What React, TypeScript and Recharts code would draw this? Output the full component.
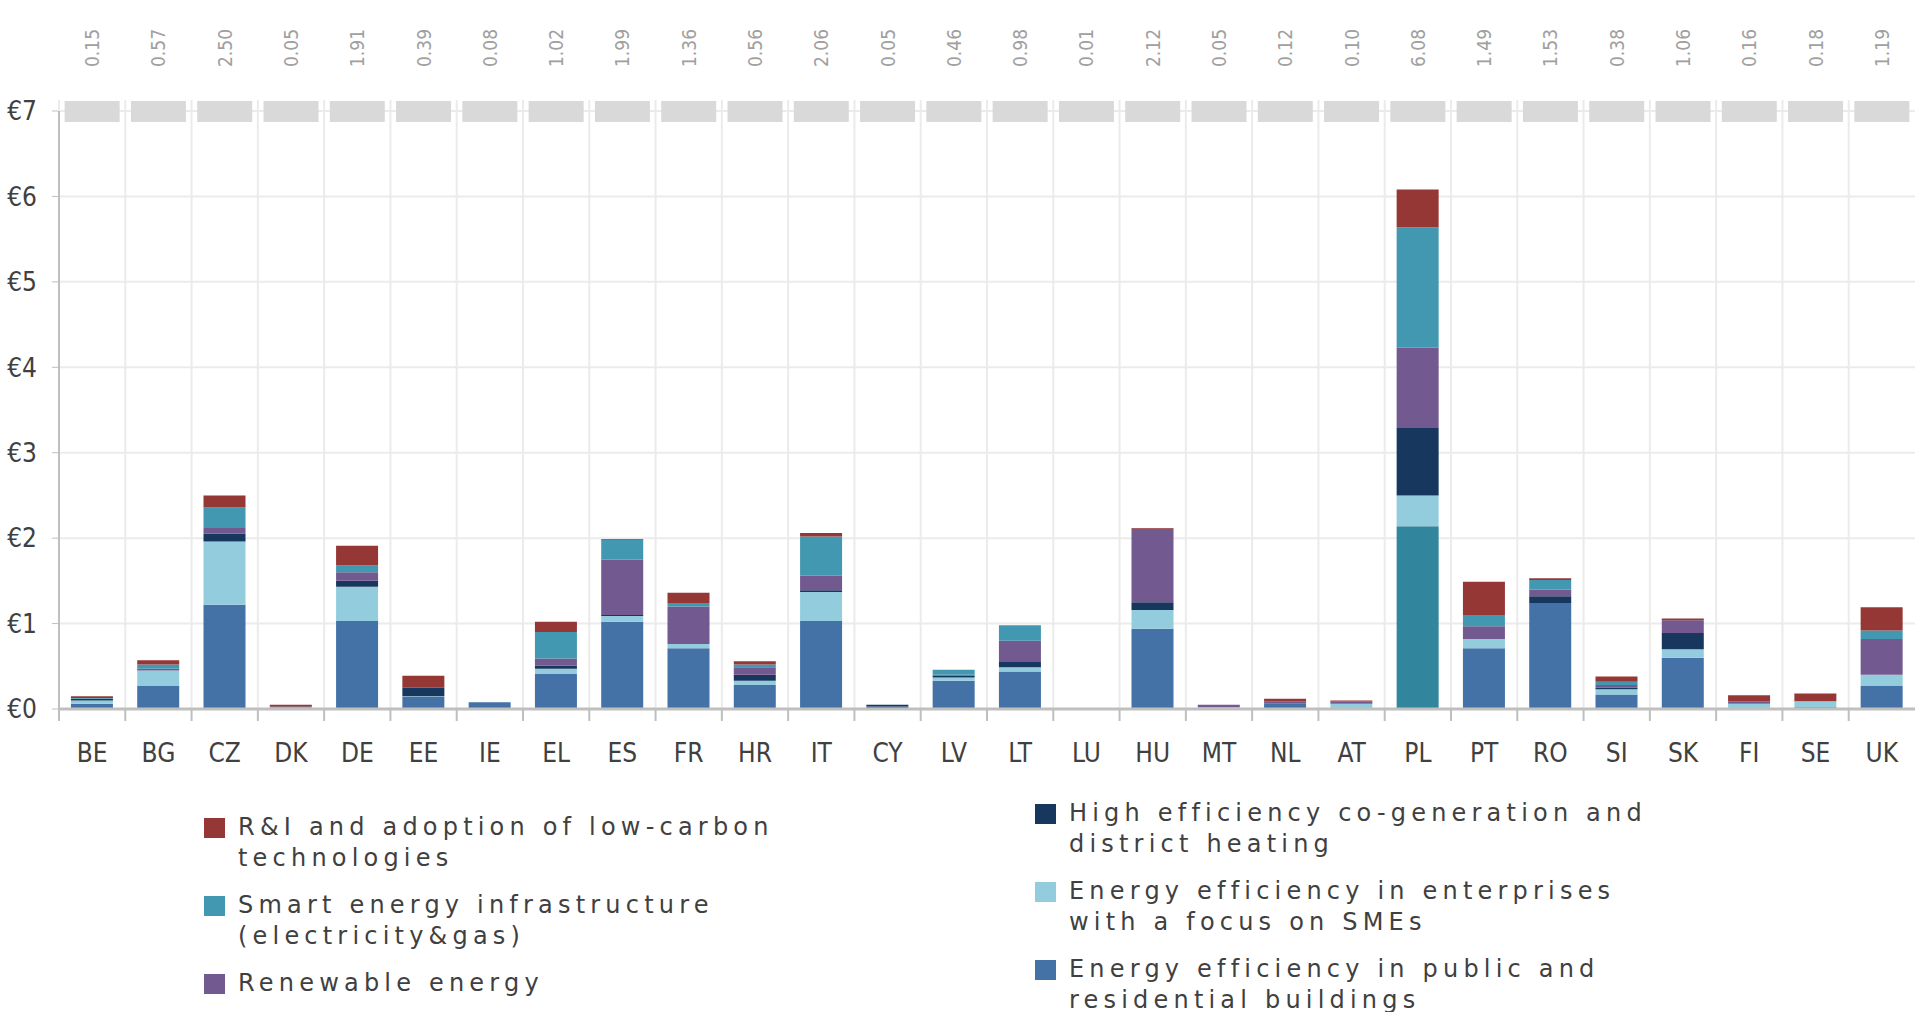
import React from "react";
import { BarChart, Bar, XAxis, YAxis, CartesianGrid, Cell } from "recharts";

const COUNTRIES = ["BE", "BG", "CZ", "DK", "DE", "EE", "IE", "EL", "ES", "FR", "HR", "IT", "CY", "LV", "LT", "LU", "HU", "MT", "NL", "AT", "PL", "PT", "RO", "SI", "SK", "FI", "SE", "UK"];
const TOTALS = ["0.15", "0.57", "2.50", "0.05", "1.91", "0.39", "0.08", "1.02", "1.99", "1.36", "0.56", "2.06", "0.05", "0.46", "0.98", "0.01", "2.12", "0.05", "0.12", "0.10", "6.08", "1.49", "1.53", "0.38", "1.06", "0.16", "0.18", "1.19"];

// EUR values per series, bottom of the stack first
const PUBLIC_BUILDINGS = [0.06, 0.27, 1.22, 0.01, 1.03, 0.14, 0.08, 0.41, 1.02, 0.71, 0.28, 1.03, 0.03, 0.33, 0.44, 0, 0.94, 0, 0.06, 0, 2.14, 0.71, 1.24, 0.17, 0.6, 0.01, 0.02, 0.27];
const SME = [0.04, 0.18, 0.74, 0.01, 0.4, 0.01, 0, 0.06, 0.07, 0.05, 0.05, 0.34, 0, 0.04, 0.05, 0, 0.22, 0.02, 0, 0.06, 0.36, 0.11, 0, 0.06, 0.1, 0.05, 0.07, 0.13];
const COGEN = [0.02, 0, 0.09, 0.01, 0.07, 0.1, 0, 0.04, 0.01, 0, 0.07, 0.02, 0.02, 0.02, 0.06, 0, 0.09, 0, 0, 0, 0.79, 0, 0.08, 0.02, 0.19, 0, 0, 0];
const RENEWABLE = [0, 0.02, 0.07, 0, 0.1, 0, 0, 0.08, 0.65, 0.44, 0.09, 0.17, 0, 0.01, 0.25, 0, 0.86, 0.03, 0.03, 0.03, 0.94, 0.15, 0.08, 0.03, 0.15, 0.03, 0, 0.42];
const SMART = [0.01, 0.05, 0.24, 0, 0.08, 0, 0, 0.31, 0.23, 0.04, 0.03, 0.46, 0, 0.06, 0.18, 0, 0, 0, 0, 0, 1.41, 0.13, 0.11, 0.04, 0, 0, 0, 0.1];
const RI = [0.02, 0.05, 0.14, 0.02, 0.23, 0.14, 0, 0.12, 0.01, 0.12, 0.04, 0.04, 0, 0, 0, 0.01, 0.01, 0, 0.03, 0.01, 0.44, 0.39, 0.02, 0.06, 0.02, 0.07, 0.09, 0.27];

const Y_TICKS = [0, 1, 2, 3, 4, 5, 6, 7];

const SERIES = [
  { key: "pub", color: "#4472a7", label: "Energy efficiency in public and\nresidential buildings" },
  { key: "sme", color: "#93cddd", label: "Energy efficiency in enterprises\nwith a focus on SMEs" },
  { key: "cogen", color: "#17375e", label: "High efficiency co-generation and\ndistrict heating" },
  { key: "ren", color: "#72598f", label: "Renewable energy" },
  { key: "smart", color: "#4298b0", label: "Smart energy infrastructure\n(electricity&gas)" },
  { key: "ri", color: "#953735", label: "R&I and adoption of low-carbon\ntechnologies" },
];

const data = COUNTRIES.map((country, i) => ({
  country,
  total: TOTALS[i],
  pub: PUBLIC_BUILDINGS[i],
  sme: SME[i],
  cogen: COGEN[i],
  ren: RENEWABLE[i],
  smart: SMART[i],
  ri: RI[i],
}));

const W = 1915;
const H = 1012;
const Y_AXIS_W = 59;
const BAND = (W - Y_AXIS_W) / COUNTRIES.length;

const NARROW = "'Liberation Sans Narrow', 'DejaVu Sans Condensed', 'Liberation Sans', sans-serif";
const TEXT = "#404040";

function BottomTick(props: any) {
  const { x, y, payload } = props;
  return (
    <g>
      <line x1={x - BAND / 2} x2={x - BAND / 2} y1={y} y2={y + 12} stroke="#bfbfbf" strokeWidth={2} />
      <text x={x} y={y + 53} textAnchor="middle" fontFamily={NARROW} fontSize={26} fill={TEXT}>
        {payload.value}
      </text>
    </g>
  );
}

function TopTick(props: any) {
  const { x, y, index } = props;
  const tx = x + 7;
  const ty = y - 44;
  return (
    <g>
      <line x1={x - BAND / 2} x2={x - BAND / 2} y1={y - 11} y2={y} stroke="#ebebeb" strokeWidth={2} />
      <rect x={x - 27.5} y={y - 10} width={55} height={21} fill="#d9d9d9" />
      <text
        x={tx}
        y={ty}
        transform={`rotate(-90, ${tx}, ${ty})`}
        textAnchor="start"
        fontFamily={NARROW}
        fontSize={19}
        fill="#a0a0a0"
      >
        {TOTALS[index]}
      </text>
    </g>
  );
}

function LegendItem({ s }: { s: (typeof SERIES)[number] }) {
  return (
    <div style={{ display: "flex", alignItems: "flex-start", marginBottom: 17 }}>
      <div style={{ width: 21, height: 20, background: s.color, marginTop: 6, marginRight: 13, flex: "none" }} />
      <div style={{ whiteSpace: "pre-line" }}>{s.label}</div>
    </div>
  );
}

export default function App() {
  const bySeries = Object.fromEntries(SERIES.map((s) => [s.key, s]));
  const leftCol = [bySeries.ri, bySeries.smart, bySeries.ren];
  const rightCol = [bySeries.cogen, bySeries.sme, bySeries.pub];
  const legendText: React.CSSProperties = {
    position: "absolute",
    fontFamily: "'DejaVu Sans', sans-serif",
    fontSize: 24,
    lineHeight: "30.5px",
    letterSpacing: 5.2,
    color: TEXT,
  };

  return (
    <div style={{ position: "absolute", left: 0, top: 0, width: W, height: H, background: "#fff" }}>
      <BarChart
        width={W}
        height={H}
        data={data}
        margin={{ top: 11, right: 0, bottom: 223, left: 0 }}
        barCategoryGap="18%"
      >
        <CartesianGrid
          stroke="#ebebeb"
          strokeWidth={2}
          verticalCoordinatesGenerator={({ offset }: any) =>
            COUNTRIES.map((_, i) => offset.left + (i * offset.width) / COUNTRIES.length)
          }
        />
        <XAxis
          dataKey="country"
          xAxisId="top"
          orientation="top"
          height={100}
          axisLine={false}
          tickLine={false}
          tickSize={0}
          tickMargin={0}
          interval={0}
          tick={<TopTick />}
        />
        <XAxis
          dataKey="country"
          height={80}
          axisLine={{ stroke: "#bfbfbf", strokeWidth: 3 }}
          tickLine={false}
          tickSize={0}
          tickMargin={0}
          interval={0}
          tick={<BottomTick />}
        />
        <YAxis
          width={Y_AXIS_W}
          domain={[0, 7]}
          ticks={Y_TICKS}
          interval={0}
          tickFormatter={(v) => `€${v}`}
          axisLine={{ stroke: "#bfbfbf", strokeWidth: 2 }}
          tickLine={{ stroke: "#bfbfbf" }}
          tickSize={7}
          tickMargin={15}
          tick={{ fontFamily: NARROW, fontSize: 26, fill: TEXT }}
        />
        {SERIES.map((s) => (
          <Bar key={s.key} dataKey={s.key} stackId="a" fill={s.color} isAnimationActive={false}>
            {s.key === "pub" &&
              data.map((d) => <Cell key={d.country} fill={d.country === "PL" ? "#31859c" : s.color} />)}
          </Bar>
        ))}
      </BarChart>
      <div style={{ ...legendText, left: 204, top: 812 }}>
        {leftCol.map((s) => (
          <LegendItem key={s.key} s={s} />
        ))}
      </div>
      <div style={{ ...legendText, left: 1035, top: 798 }}>
        {rightCol.map((s) => (
          <LegendItem key={s.key} s={s} />
        ))}
      </div>
    </div>
  );
}
